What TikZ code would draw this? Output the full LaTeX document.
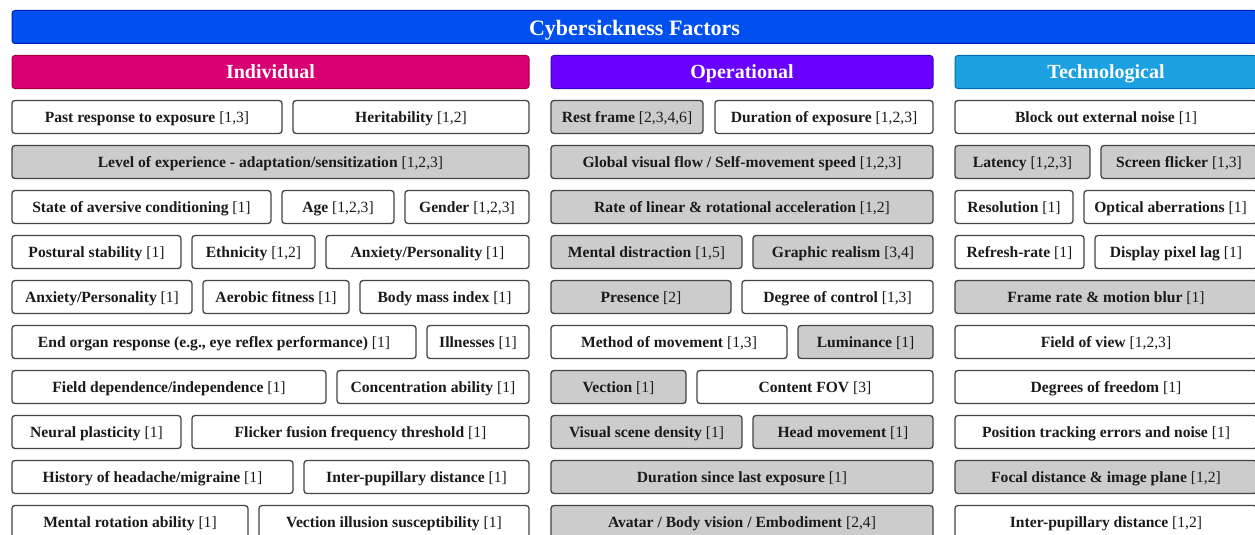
\documentclass[tikz,border=0pt]{standalone}
\usepackage{fontspec}
\setmainfont{Liberation Serif}
\definecolor{titlefill}{HTML}{0050EF}
\definecolor{titledraw}{HTML}{001DBC}
\definecolor{indfill}{HTML}{D80073}
\definecolor{inddraw}{HTML}{A50040}
\definecolor{opfill}{HTML}{6A00FF}
\definecolor{opdraw}{HTML}{3700CC}
\definecolor{techfill}{HTML}{1BA1E2}
\definecolor{techdraw}{HTML}{006EAF}
\definecolor{cellgray}{HTML}{CCCCCC}
\definecolor{celldraw}{HTML}{444444}
\definecolor{celltext}{HTML}{1A1A1A}
\tikzset{
  basecell/.style={draw=celldraw, line width=1.3pt, rounded corners=3pt,
    minimum height=33pt, inner sep=0pt, text=celltext,
    text height=13.4pt, text depth=3pt,
    font=\fontsize{15.6}{18}\selectfont},
  wcell/.style={basecell, fill=white},
  gcell/.style={basecell, fill=cellgray},
  headcell/.style={line width=1pt, rounded corners=3pt, minimum height=33pt,
    inner sep=0pt, text=white, text height=16.5pt, text depth=3.5pt,
    font=\fontsize{20}{24}\selectfont\bfseries},
  titlecell/.style={headcell, fill=titlefill, draw=titledraw,
    text height=19.5pt, text depth=3.3pt,
    font=\fontsize{22}{26}\selectfont\bfseries},
}
\newcommand{\cell}[7]{% name, x1, x2, row, style, bold text, refs
  \pgfmathsetmacro{\cw}{#3-#2}%
  \pgfmathsetmacro{\cx}{(#2+#3)/2}%
  \pgfmathsetmacro{\cy}{-(117+45*#4)}%
  \node[#5, minimum width=\cw pt] (#1) at (\cx pt,\cy pt) {\textbf{#6} #7};}
\newcommand{\headbox}[6]{% name, x1, x2, ycenter, style, text
  \pgfmathsetmacro{\cw}{#3-#2}%
  \pgfmathsetmacro{\cx}{(#2+#3)/2}%
  \node[#5, minimum width=\cw pt] (#1) at (\cx pt,-#4 pt) {#6};}
\begin{document}
\begin{tikzpicture}
\useasboundingbox (0pt,0pt) rectangle (1255pt,-535pt);
\clip (0pt,0pt) rectangle (1255pt,-535pt);
\fill[white] (0pt,0pt) rectangle (1255pt,-535pt);
% title and headers
\headbox{title}{12}{1257}{27}{titlecell}{Cybersickness Factors}
\headbox{individual}{12}{529}{72}{headcell, fill=indfill, draw=inddraw}{Individual}
\headbox{operational}{551}{933}{72}{headcell, fill=opfill, draw=opdraw}{Operational}
\headbox{technological}{955}{1257}{72}{headcell, fill=techfill, draw=techdraw}{Technological}
% Individual
\cell{past}{12}{282}{0}{wcell}{Past response to exposure}{[1,3]}
\cell{herit}{293}{529}{0}{wcell}{Heritability}{[1,2]}
\cell{level}{12}{529}{1}{gcell}{Level of experience - adaptation/sensitization}{[1,2,3]}
\cell{state}{12}{271}{2}{wcell}{State of aversive conditioning}{[1]}
\cell{age}{282}{394}{2}{wcell}{Age}{[1,2,3]}
\cell{gender}{405}{529}{2}{wcell}{Gender}{[1,2,3]}
\cell{postural}{12}{181}{3}{wcell}{Postural stability}{[1]}
\cell{ethnicity}{192}{315}{3}{wcell}{Ethnicity}{[1,2]}
\cell{anxietya}{326}{529}{3}{wcell}{Anxiety/Personality}{[1]}
\cell{anxietyb}{12}{192}{4}{wcell}{Anxiety/Personality}{[1]}
\cell{aerobic}{203}{349}{4}{wcell}{Aerobic fitness}{[1]}
\cell{bmi}{360}{529}{4}{wcell}{Body mass index}{[1]}
\cell{endorgan}{12}{416}{5}{wcell}{End organ response (e.g., eye reflex performance)}{[1]}
\cell{illness}{427}{529}{5}{wcell}{Illnesses}{[1]}
\cell{fielddep}{12}{326}{6}{wcell}{Field dependence/independence}{[1]}
\cell{concentration}{337}{529}{6}{wcell}{Concentration ability}{[1]}
\cell{neural}{12}{181}{7}{wcell}{Neural plasticity}{[1]}
\cell{flicker}{192}{529}{7}{wcell}{Flicker fusion frequency threshold}{[1]}
\cell{headache}{12}{293}{8}{wcell}{History of headache/migraine}{[1]}
\cell{ipda}{304}{529}{8}{wcell}{Inter-pupillary distance}{[1]}
\cell{mrot}{12}{248}{9}{wcell}{Mental rotation ability}{[1]}
\cell{vill}{259}{529}{9}{wcell}{Vection illusion susceptibility}{[1]}
% Operational
\cell{rest}{551}{703}{0}{gcell}{Rest frame}{[2,3,4,6]}
\cell{durexp}{715}{933}{0}{wcell}{Duration of exposure}{[1,2,3]}
\cell{flow}{551}{933}{1}{gcell}{Global visual flow / Self-movement speed}{[1,2,3]}
\cell{accel}{551}{933}{2}{gcell}{Rate of linear \& rotational acceleration}{[1,2]}
\cell{distr}{551}{742}{3}{gcell}{Mental distraction}{[1,5]}
\cell{realism}{753}{933}{3}{gcell}{Graphic realism}{[3,4]}
\cell{presence}{551}{731}{4}{gcell}{Presence}{[2]}
\cell{control}{742}{933}{4}{wcell}{Degree of control}{[1,3]}
\cell{method}{551}{787}{5}{wcell}{Method of movement}{[1,3]}
\cell{lum}{798}{933}{5}{gcell}{Luminance}{[1]}
\cell{vection}{551}{686}{6}{gcell}{Vection}{[1]}
\cell{cfov}{697}{933}{6}{wcell}{Content FOV}{[3]}
\cell{density}{551}{742}{7}{gcell}{Visual scene density}{[1]}
\cell{headmov}{753}{933}{7}{gcell}{Head movement}{[1]}
\cell{since}{551}{933}{8}{gcell}{Duration since last exposure}{[1]}
\cell{avatar}{551}{933}{9}{gcell}{Avatar / Body vision / Embodiment}{[2,4]}
% Technological
\cell{noise}{955}{1257}{0}{wcell}{Block out external noise}{[1]}
\cell{latency}{955}{1090}{1}{gcell}{Latency}{[1,2,3]}
\cell{sflicker}{1101}{1257}{1}{gcell}{Screen flicker}{[1,3]}
\cell{resol}{955}{1073}{2}{wcell}{Resolution}{[1]}
\cell{optical}{1084}{1257}{2}{wcell}{Optical aberrations}{[1]}
\cell{refresh}{955}{1084}{3}{wcell}{Refresh-rate}{[1]}
\cell{pixlag}{1095}{1257}{3}{wcell}{Display pixel lag}{[1]}
\cell{framerate}{955}{1257}{4}{gcell}{Frame rate \& motion blur}{[1]}
\cell{fov}{955}{1257}{5}{wcell}{Field of view}{[1,2,3]}
\cell{dof}{955}{1257}{6}{wcell}{Degrees of freedom}{[1]}
\cell{tracking}{955}{1257}{7}{wcell}{Position tracking errors and noise}{[1]}
\cell{focal}{955}{1257}{8}{gcell}{Focal distance \& image plane}{[1,2]}
\cell{ipdb}{955}{1257}{9}{wcell}{Inter-pupillary distance}{[1,2]}
\end{tikzpicture}
\end{document}
